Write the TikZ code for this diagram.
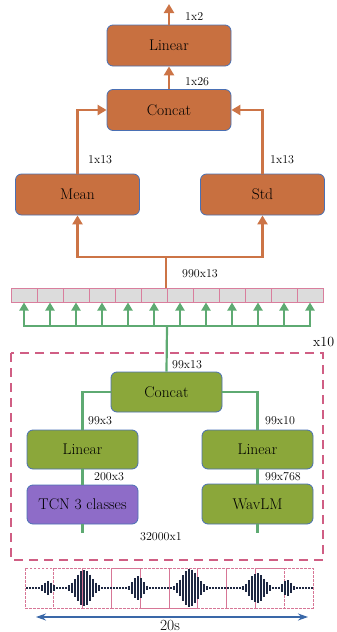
\documentclass[tikz,border=0pt]{standalone}
\usetikzlibrary{arrows.meta,positioning}
\definecolor{orbox}{HTML}{C87040}
\definecolor{orline}{HTML}{CC7446}
\definecolor{gnbox}{HTML}{8BA73A}
\definecolor{gnline}{HTML}{5EAA72}
\definecolor{purp}{HTML}{8E6CC8}
\definecolor{bordb}{HTML}{4A70B4}
\definecolor{pinkd}{HTML}{D05E84}
\definecolor{cellg}{HTML}{DCDCDC}
\definecolor{wavec}{HTML}{1E2842}
\definecolor{arrb}{HTML}{3A68A8}
\tikzset{
  boxbase/.style={draw=bordb, line width=0.8pt, rounded corners=6pt, inner sep=0pt,
     font=\fontsize{15.5}{18}\selectfont},
  obox/.style={boxbase, fill=orbox, minimum width=124pt, minimum height=41pt},
  gbox/.style={boxbase, fill=gnbox, minimum width=111pt, minimum height=39pt},
  pbox/.style={boxbase, fill=purp, minimum width=111pt, minimum height=39pt},
  cellbox/.style={draw=pinkd!80, fill=cellg, line width=1pt, minimum width=26pt, minimum height=14pt, inner sep=0pt},
  oline/.style={draw=orline, line width=2.6pt},
  oarrow/.style={oline, -{Triangle[length=9pt,width=10pt]}},
  gline/.style={draw=gnline, line width=2.2pt},
  garrow/.style={gline, -{Triangle[length=8pt,width=9pt]}},
  lbl/.style={anchor=west, inner sep=0pt, font=\fontsize{12}{14}\selectfont},
  win/.style={draw=pinkd!85, dashed, dash pattern=on 2.5pt off 1.5pt, line width=0.7pt},
}
\begin{document}
\begin{tikzpicture}[x=1pt,y=-1pt]
\useasboundingbox (0,0) rectangle (337,632);
% top orange part
\node[obox] (lin2) at (169,45.5) {Linear};
\node[obox] (cat2) at (169,110) {Concat};
\node[obox] (mean) at (77.5,194.5) {Mean};
\node[obox] (std) at (262.5,194.5) {Std};
\coordinate (out) at (169,4);
\draw[oarrow] (lin2.north) -- (out);
\draw[oarrow] (cat2.north) -- (lin2.south);
\draw[oarrow] (mean.north) |- (cat2.west);
\draw[oarrow] (std.north) |- (cat2.east);
\node[lbl] (l1) at (185,17) {1x2};
\node[lbl] (l2) at (185,82) {1x26};
\node[lbl] (l3) at (88,160) {1x13};
\node[lbl] (l4) at (270,160) {1x13};
% cells
\foreach \i in {1,...,12} {
  \node[cellbox] (c\i) at ({11+26*(\i-0.5)},295) {};
}
\coordinate (split) at (166,257);
\draw[oline] (166,288) -- (split);
\draw[oarrow] (split) -| (mean.south);
\draw[oarrow] (split) -| (std.south);
\node[lbl] (l5) at (182,274) {990x13};
% green block
\node[gbox, minimum height=40pt] (cat1) at (166.5,392) {Concat};
\node[gbox] (linL) at (82.5,449.5) {Linear};
\node[gbox] (linR) at (257.5,449.5) {Linear};
\node[pbox] (tcn) at (82.5,504.5) {TCN 3 classes};
\node[gbox, minimum height=40pt] (wav) at (257.5,504) {WavLM};
\coordinate (gsplit) at (167,326);
\draw[gline] (cat1.north) -- (gsplit);
\foreach \i in {1,...,12} {
  \draw[garrow] (gsplit) -| (c\i.south);
}
\draw[gline] (cat1.west) -| (linL.north);
\draw[gline] (cat1.east) -| (linR.north);
\draw[gline] (linL.south) -- (tcn.north);
\draw[gline] (linR.south) -- (wav.north);
\coordinate (tin) at (82.5,533);
\coordinate (win) at (257.5,533);
\draw[gline] (tcn.south) -- (tin);
\draw[gline] (wav.south) -- (win);
\node[lbl, font=\fontsize{14}{16}\selectfont] (l6) at (313,342) {x10};
\node[lbl] (l7) at (172,365) {99x13};
\node[lbl] (l8) at (88,421) {99x3};
\node[lbl] (l9) at (265,421) {99x10};
\node[lbl] (l10) at (94,477) {200x3};
\node[lbl] (l11) at (265,477) {99x768};
\node[lbl] (l12) at (140,537) {32000x1};
\draw[draw=pinkd, line width=2.2pt, dash pattern=on 9pt off 6pt] (11,353) rectangle (323,560);
% waveform windows
\foreach \k in {0,...,8} {
  \draw[win] ({25+28.8*\k},568) rectangle ({25+28.8*(\k+2)},608);
}
% waveform bars
\foreach \xx in {27,30,...,312} {
  \pgfmathsetmacro{\hh}{7*exp(-min(((\xx-48)/6)^2,20)) + 18*exp(-min(((\xx-84)/11)^2,20)) + 12*exp(-min(((\xx-138)/7)^2,20)) + 19*exp(-min(((\xx-190)/11)^2,20)) + 15*exp(-min(((\xx-257)/10)^2,20)) + 8*exp(-min(((\xx-287)/6)^2,20))}
  \pgfmathsetmacro{\hb}{max(\hh,0.6)}
  \draw[wavec, line width=1.3pt] (\xx,{588-\hb}) -- (\xx,{588+\hb});
}
% 20s arrow
\coordinate (a1) at (36,617);
\coordinate (a2) at (308,617);
\draw[arrb, line width=1.2pt, {Stealth[length=10pt,width=7pt]}-{Stealth[length=10pt,width=7pt]}] (a1) -- (a2);
\node[font=\fontsize{15.5}{18}\selectfont, fill=white, inner sep=0.5pt] (t20) at (170,625) {20s};
\end{tikzpicture}
\end{document}
